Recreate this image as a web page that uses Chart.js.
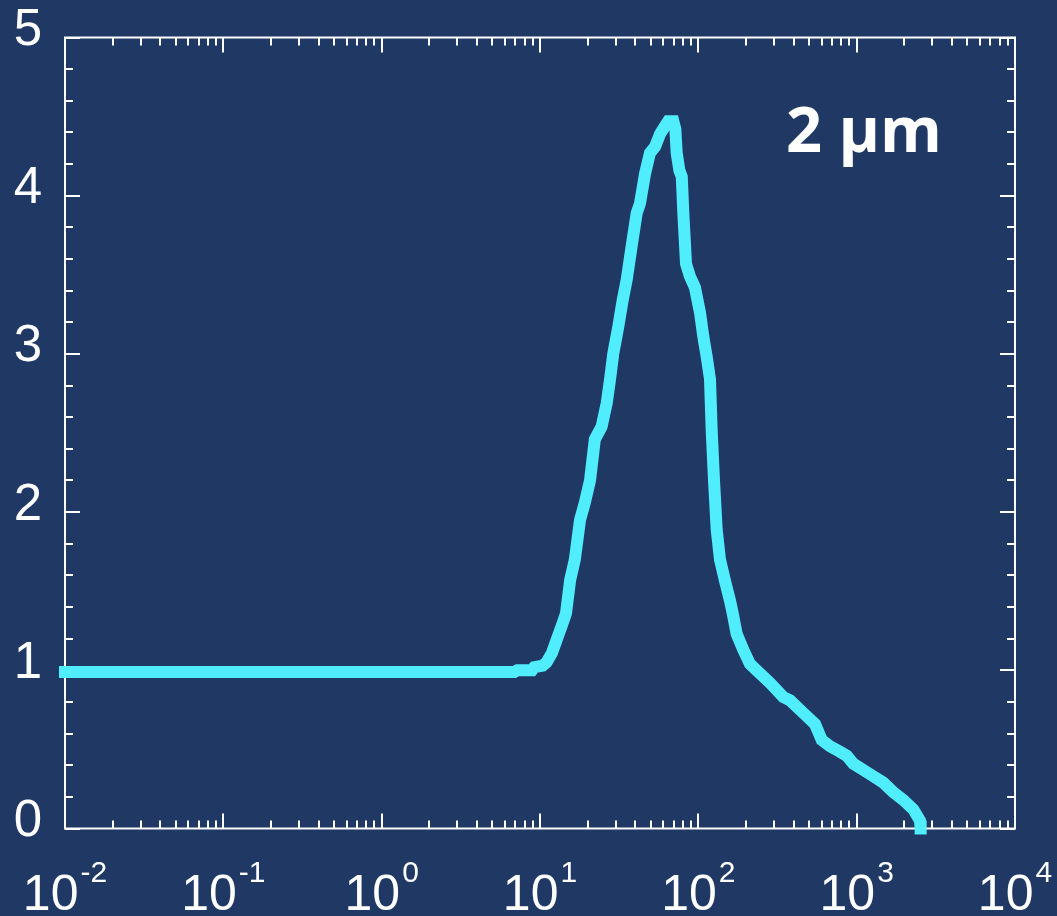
<!DOCTYPE html>
<html>
<head>
<meta charset="utf-8">
<title>2 µm</title>
<script src="https://cdn.jsdelivr.net/npm/chart.js@4.4.1/dist/chart.umd.min.js"></script>
<style>
  html, body { margin: 0; padding: 0; background: #203864; }
  canvas { display: block; }
</style>
</head>
<body>
<canvas id="chart" width="1057" height="916"></canvas>
<script>
// Curve samples (x on a log axis, y linear)
const xData = [
  0.01, 6.9, 7.2, 8.9, 9.2, 10.4, 11.0, 11.9, 13.7, 14.6,
  15.5, 16.6, 17.9, 19.2, 20.7, 22.2, 24.5, 26.4, 27.7, 29.0,
  31.2, 33.3, 35.3, 37.9, 40.8, 42.8, 46.1, 49.5, 53.3, 57.3,
  61.6, 64.5, 69.5, 71.6, 73.0, 75.9, 78.6, 80.4, 83.6, 88.5, 95.2,
  102.5, 107.5, 113, 118.5, 121.4, 125.6, 130.6, 137, 147, 158.5,
  164.8, 174.6, 192.3, 211.9, 233.6, 283.7, 344.4, 379.3, 460.6, 545.8,
  601.6, 678.6, 785, 865, 952, 1102, 1274, 1472, 1703, 1972,
  2280, 2512, 2536
];
const yData = [
  0.99, 0.99, 1.00, 1.00, 1.02, 1.03, 1.05, 1.11, 1.28, 1.36,
  1.57, 1.70, 1.95, 2.06, 2.20, 2.46, 2.54, 2.69, 2.84, 3.00,
  3.17, 3.34, 3.47, 3.68, 3.89, 3.95, 4.14, 4.27, 4.31, 4.39,
  4.44, 4.47, 4.47, 4.42, 4.27, 4.16, 4.12, 3.89, 3.57, 3.49, 3.42,
  3.26, 3.11, 2.98, 2.84, 2.52, 2.20, 1.89, 1.70, 1.57, 1.44,
  1.36, 1.23, 1.13, 1.04, 1.00, 0.92, 0.83, 0.81, 0.73, 0.66,
  0.56, 0.52, 0.485, 0.46, 0.41, 0.37, 0.33, 0.29, 0.23, 0.18,
  0.12, 0.05, 0.0
];

// Axis ticks and labels
const xMajorTicks = [0.01, 0.1, 1, 10, 100, 1000, 10000];
const xTickExponents = ['-2', '-1', '0', '1', '2', '3', '4'];
const yMajorTicks = [0, 1, 2, 3, 4, 5];
const yTickLabels = ['0', '1', '2', '3', '4', '5'];
const yMinorStep = 0.2;
const panelLabel = '2 µm';

const BG = '#203864';
const FG = '#ffffff';
const LINE = '#50EEFC';

const framePlugin = {
  id: 'frameAndTicks',
  beforeDraw(chart) {
    const ctx = chart.ctx;
    ctx.save();
    ctx.fillStyle = BG;
    ctx.fillRect(0, 0, chart.width, chart.height);
    ctx.restore();
  },
  beforeDatasetsDraw(chart) {
    const ctx = chart.ctx;
    const { left, right, top, bottom } = chart.chartArea;
    const xs = chart.scales.x, ys = chart.scales.y;
    const majorLen = 15, minorLen = 8;
    ctx.save();
    ctx.strokeStyle = FG;
    ctx.lineWidth = 2;
    ctx.strokeRect(left, top, right - left, bottom - top);

    ctx.beginPath();
    // y ticks, both sides, pointing inward
    const yMin = yMajorTicks[0], yMax = yMajorTicks[yMajorTicks.length - 1];
    const nSteps = Math.round((yMax - yMin) / yMinorStep);
    for (let i = 0; i <= nSteps; i++) {
      const v = yMin + i * yMinorStep;
      const isMajor = yMajorTicks.some(t => Math.abs(t - v) < 1e-6);
      const len = isMajor ? majorLen : minorLen;
      const py = Math.round(ys.getPixelForValue(v));
      ctx.moveTo(left, py); ctx.lineTo(left + len, py);
      ctx.moveTo(right, py); ctx.lineTo(right - len, py);
    }
    // x ticks on the log axis, top and bottom, pointing inward
    for (let d = 0; d < xMajorTicks.length; d++) {
      const base = xMajorTicks[d];
      const mults = d < xMajorTicks.length - 1 ? [1, 2, 3, 4, 5, 6, 7, 8, 9] : [1];
      for (const m of mults) {
        const v = base * m;
        const len = m === 1 ? majorLen : minorLen;
        const px = Math.round(xs.getPixelForValue(v));
        ctx.moveTo(px, top); ctx.lineTo(px, top + len);
        ctx.moveTo(px, bottom); ctx.lineTo(px, bottom - len);
      }
    }
    ctx.stroke();
    ctx.restore();
  },
  afterDraw(chart) {
    const ctx = chart.ctx;
    const xs = chart.scales.x, ys = chart.scales.y;
    ctx.save();
    ctx.fillStyle = FG;

    // y labels
    ctx.font = '51px "Liberation Sans", Arial, sans-serif';
    ctx.textAlign = 'right';
    ctx.textBaseline = 'alphabetic';
    yMajorTicks.forEach((v, i) => {
      ctx.fillText(yTickLabels[i], 42, ys.getPixelForValue(v) + 7.5);
    });

    // x labels: 10 with superscript exponent
    const baseFont = '50px "Liberation Sans", Arial, sans-serif';
    const supFont = '30px "Liberation Sans", Arial, sans-serif';
    ctx.textAlign = 'left';
    xMajorTicks.forEach((v, i) => {
      ctx.font = baseFont;
      const wBase = ctx.measureText('10').width;
      ctx.font = supFont;
      const wSup = ctx.measureText(xTickExponents[i]).width;
      const gap = 2;
      const start = xs.getPixelForValue(v) - (wBase + gap + wSup) / 2;
      ctx.font = baseFont;
      ctx.fillText('10', start, 910);
      ctx.font = supFont;
      ctx.fillText(xTickExponents[i], start + wBase + gap, 882);
    });

    // panel label
    ctx.font = 'bold 63px "Open Sans", sans-serif';
    ctx.fillText(panelLabel, 786, 152);
    ctx.restore();
  }
};

new Chart(document.getElementById('chart'), {
  type: 'line',
  data: {
    datasets: [{
      data: xData.map((x, i) => ({ x: x, y: yData[i] })),
      borderColor: LINE,
      borderWidth: 12,
      borderCapStyle: 'square',
      borderJoinStyle: 'miter',
      pointRadius: 0,
      tension: 0,
      fill: false,
      clip: false
    }]
  },
  options: {
    responsive: false,
    animation: false,
    devicePixelRatio: 1,
    layout: { padding: { left: 65, right: 42, top: 37.5, bottom: 87.5 } },
    plugins: { legend: { display: false }, tooltip: { enabled: false } },
    scales: {
      x: { type: 'logarithmic', min: 0.01, max: 10000, display: false },
      y: { type: 'linear', min: 0, max: 5, display: false }
    }
  },
  plugins: [framePlugin]
});
</script>
</body>
</html>
